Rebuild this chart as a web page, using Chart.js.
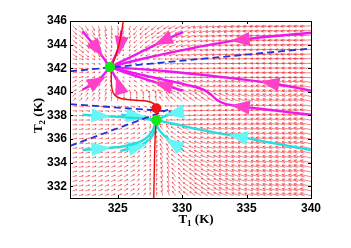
<!DOCTYPE html>
<html><head><meta charset="utf-8">
<script src="https://cdn.jsdelivr.net/npm/chart.js@4"></script>
<style>html,body{margin:0;padding:0;background:#fff}</style>
</head><body>
<canvas id="c" width="351" height="248"></canvas>
<script>
// ---- axes ----
const xTicks = [325, 330, 335, 340];
const yTicks = [332, 334, 336, 338, 340, 342, 344, 346];
const xRange = [321.3, 340];
const yRange = [331, 346];

// ---- quiver sample grid ----
const quiverT1 = [321.5,322,322.5,323,323.5,324,324.5,325,325.5,326,326.5,327,327.5,328,328.5,329,329.5,330,330.5,331,331.5,332,332.5,333,333.5,334,334.5,335,335.5,336,336.5,337,337.5,338,338.5,339,339.5,340];
const quiverT2 = [331.2,331.6,332.0,332.4,332.8,333.2,333.6,334.0,334.4,334.8,335.2,335.6,336.0,336.4,336.8,337.2,337.6,338.0,338.4,338.8,339.2,339.6,340.0,340.4,340.8,341.2,341.6,342.0,342.4,342.8,343.2,343.6,344.0,344.4,344.8,345.2,345.6];

// field in 1K x 1K cells (direction in degrees, 0 = toward +T1, 90 = toward +T2)
const fieldT1 = [321.75,322.75,323.75,324.75,325.75,326.75,327.75,328.75,329.75,330.75,331.75,332.75,333.75,334.75,335.75,336.75,337.75,338.75,339.75];
const fieldT2 = [345.5,344.5,343.5,342.5,341.5,340.5,339.5,338.5,337.5,336.5,335.5,334.5,333.5,332.5,331.5];
const fieldAngle = [
 [315,300,285,280,250,232,220,210,203,198,194,191,189,187,186,185,185,184,184],
 [320,315,300,280,250,225,212,205,200,195,192,189,187,186,185,184,183,183,183],
 [325,315,300,260,230,215,205,198,194,191,189,187,186,185,184,183,182,182,182],
 [352,350,340,226,195,190,187,185,184,183,182,181,180,180,179,179,179,179,179],
 [12,15,25,120,160,168,172,175,176,177,177,177,177,177,178,178,178,178,178],
 [29,40,60,103,132,148,155,160,163,165,167,168,169,169,170,170,171,171,171],
 [45,55,70,85,90,95,100,125,140,148,150,155,160,163,165,166,167,168,168],
 [355,355,352,350,345,340,300,180,180,180,178,176,175,174,174,173,173,173,173],
 [2,2,3,5,5,8,10,175,176,175,172,171,170,170,170,170,170,170,170],
 [9,10,12,14,18,30,85,126,150,160,165,167,168,169,169,170,170,170,170],
 [8,10,12,15,20,35,80,120,145,158,163,166,167,168,168,169,169,169,169],
 [10,12,14,17,25,40,80,115,140,155,160,163,165,166,167,168,168,168,168],
 [12,14,16,20,28,45,82,110,135,150,157,161,163,165,166,167,167,168,168],
 [14,16,18,22,30,48,83,108,130,146,154,158,161,163,165,166,167,167,168],
 [15,17,20,24,32,50,84,105,126,142,151,156,159,162,164,165,166,166,167]
];
// relative magnitude 0..9 per cell
const fieldMag = [
 "4443345566778889999",
 "4432234556677888999",
 "4321123456677788899",
 "3210012345667778889",
 "3210012345667778889",
 "3321123445667778889",
 "3333334455667778889",
 "3333321345667778889",
 "3332210245667778889",
 "3333322345667778889",
 "3333322445667778889",
 "3333322445667778889",
 "3333322445667778889",
 "3333322445667778889",
 "3333322445667778889"
];

// ---- nullcline (red) ----
const nullT1 = [325.44,325.2,324.9,324.6,324.5,324.55,324.75,325.2,326.2,327.3,327.8,328.0,328.05,328.0,327.95,327.9,327.85,327.8];
const nullT2 = [346,344.5,343.2,342.3,341.5,340.3,339.75,339.45,339.3,339.2,339.0,338.6,338.1,337.6,337.0,336.0,334.0,331.0];

// ---- eigen-direction dashed lines ----
const dashA_T1 = [321.3, 340],   dashA_T2 = [341.74, 343.67];
const dashB_T1 = [321.3, 329.1], dashB_T2 = [338.96, 338.33];
const dashC_T1 = [321.3, 328.9], dashC_T2 = [335.41, 338.48];

// ---- fixed points ----
const stableT1 = [324.4, 328.0], stableT2 = [342.1, 337.6];
const saddleT1 = [328.0],        saddleT2 = [338.6];

// ---- trajectories into upper node (magenta) ----
const magentaTraj = [
 {t1:[322.27,323.4,324.4], t2:[345.15,343.6,342.1], head:[323.44,343.6]},
 {t1:[325.3,325.1,324.4], t2:[345.2,343.8,342.1], head:[325.2,343.9]},
 {t1:[330.07,328.5,326.3,324.4], t2:[345.06,344.3,343.1,342.1], head:[328.5,344.3]},
 {t1:[340,334.5,330.33,326.7,324.4], t2:[345.0,344.4,343.6,342.74,342.1], head:[334.5,344.4]},
 {t1:[340,336.8,332.67,328.77,324.4], t2:[340.1,340.75,341.3,341.74,342.1], head:[336.8,340.75]},
 {t1:[340,336.5,334.5,333.3,332.67,332.2,331.6,330.5,327,324.4], t2:[338.05,338.5,338.76,339.0,339.33,339.8,340.2,340.55,341.4,342.1], head:[334.5,338.76]},
 {t1:[330.07,328.5,326.5,324.4], t2:[340.1,340.6,341.3,342.1], head:[328.5,340.6]},
 {t1:[322.27,323.44,324.4], t2:[340.18,340.9,342.1], head:[323.44,340.9]},
 {t1:[325.3,325.1,324.4], t2:[339.9,340.6,342.1], head:[325.1,340.6]}
];
// ---- trajectories into lower node (cyan) ----
const cyanTraj = [
 {t1:[322.27,323.7,326,328.0], t2:[338.05,337.95,337.8,337.6], head:[323.7,337.95]},
 {t1:[325.26,326.4,328.0], t2:[338.05,337.95,337.6], head:[326.4,337.95]},
 {t1:[330.07,329.4,328.6,328.0], t2:[338.3,338.2,337.9,337.6], head:[329.4,338.2]},
 {t1:[340,334.35,331.37,329.5,328.0], t2:[335.07,336.2,336.8,337.25,337.6], head:[334.35,336.2]},
 {t1:[322.27,323.7,325.5,326.8,327.6,328.0], t2:[335.07,335.2,335.4,335.8,336.5,337.6], head:[323.7,335.2]},
 {t1:[325.2,326.56,327.5,327.9,328.0], t2:[335.0,335.35,336.0,336.8,337.6], head:[326.56,335.35]},
 {t1:[330.07,329.3,328.5,328.1,328.0], t2:[335.07,335.64,336.4,337.0,337.6], head:[329.3,335.64]}
];

const pts = (a, b) => a.map((v, i) => ({x: v, y: b[i]}));

const datasets = [];
datasets.push({label:'stable', data: pts(stableT1, stableT2), showLine:false, pointRadius:5.2, pointBackgroundColor:'#16e816', pointBorderWidth:0, order:0});
datasets.push({label:'saddle', data: pts(saddleT1, saddleT2), showLine:false, pointRadius:5, pointBackgroundColor:'#ee1515', pointBorderWidth:0, order:0});
datasets.push({label:'nullcline', data: pts(nullT1, nullT2), showLine:true, borderColor:'#e80808', borderWidth:1.4, pointRadius:0, tension:0.3, order:1});
[[dashA_T1,dashA_T2],[dashB_T1,dashB_T2],[dashC_T1,dashC_T2]].forEach(d => {
  datasets.push({label:'dash', data: pts(d[0], d[1]), showLine:true, borderColor:'#1b35e0', borderWidth:1.8, borderDash:[7,4], pointRadius:0, order:2});
});
magentaTraj.forEach(t => {
  datasets.push({label:'mag', data: pts(t.t1, t.t2), showLine:true, borderColor:'#ee18ee', borderWidth:2.4, pointRadius:0, tension:0.35, order:3, head:t.head, headColor:'#ff40c8'});
});
cyanTraj.forEach(t => {
  datasets.push({label:'cyan', data: pts(t.t1, t.t2), showLine:true, borderColor:'#22e0e0', borderWidth:2.4, pointRadius:0, tension:0.35, order:3, head:t.head, headColor:'#66f6f6'});
});

function nearestIdx(arr, v) {
  let best = 0, bd = Infinity;
  arr.forEach((a, i) => { const d = Math.abs(a - v); if (d < bd - 1e-9) { bd = d; best = i; } });
  return best;
}

const quiverPlugin = {
  id: 'quiver',
  beforeDatasetsDraw(chart) {
    const {ctx, chartArea: ca, scales: {x, y}} = chart;
    ctx.save();
    ctx.beginPath(); ctx.rect(ca.left, ca.top, ca.right - ca.left, ca.bottom - ca.top); ctx.clip();
    ctx.strokeStyle = 'rgba(232,32,38,0.72)';
    ctx.lineWidth = 0.75;
    ctx.beginPath();
    quiverT2.forEach(v2 => {
      const r = nearestIdx(fieldT2, v2);
      quiverT1.forEach(v1 => {
        const c = nearestIdx(fieldT1, v1);
        const ang = fieldAngle[r][c] * Math.PI / 180;
        const mag = +fieldMag[r][c];
        const len = 1.0 + mag * 1.1;
        const px = x.getPixelForValue(v1), py = y.getPixelForValue(v2);
        const ex = px + Math.cos(ang) * len, ey = py - Math.sin(ang) * len;
        ctx.moveTo(px, py); ctx.lineTo(ex, ey);
        const h = Math.max(1.2, len * 0.28);
        [-0.45, 0.45].forEach(s => {
          const b = ang + Math.PI + s;
          ctx.moveTo(ex, ey); ctx.lineTo(ex + Math.cos(b) * h, ey - Math.sin(b) * h);
        });
      });
    });
    ctx.stroke();
    ctx.restore();
  },
  afterDatasetDraw(chart, args) {
    const ds = chart.data.datasets[args.index];
    if (!ds.head) return;
    const {ctx, scales: {x, y}} = chart;
    const cx = x.getPixelForValue(ds.head[0]), cy = y.getPixelForValue(ds.head[1]);
    const P = ds.data.map(p => [x.getPixelForValue(p.x), y.getPixelForValue(p.y)]);
    let best = 0, bd = Infinity;
    for (let i = 0; i < P.length - 1; i++) {
      const ax = P[i][0], ay = P[i][1], bx = P[i+1][0], by = P[i+1][1];
      const vx = bx - ax, vy = by - ay, L2 = vx*vx + vy*vy;
      let t = ((cx - ax) * vx + (cy - ay) * vy) / L2; t = Math.max(0, Math.min(1, t));
      const qx = ax + t*vx - cx, qy = ay + t*vy - cy, d = qx*qx + qy*qy;
      if (d < bd) { bd = d; best = i; }
    }
    let ux = P[best+1][0] - P[best][0], uy = P[best+1][1] - P[best][1];
    const n = Math.hypot(ux, uy); ux /= n; uy /= n;
    const L = 19, W = 14;
    ctx.save();
    ctx.fillStyle = ds.headColor;
    ctx.beginPath();
    ctx.moveTo(cx + ux*L/2, cy + uy*L/2);
    ctx.lineTo(cx - ux*L/2 - uy*W/2, cy - uy*L/2 + ux*W/2);
    ctx.lineTo(cx - ux*L/2 + uy*W/2, cy - uy*L/2 - ux*W/2);
    ctx.closePath();
    ctx.fill();
    ctx.restore();
  },
  afterDraw(chart) {
    const {ctx, chartArea: ca, scales: {x, y}} = chart;
    ctx.save();
    ctx.strokeStyle = '#000'; ctx.lineWidth = 1;
    ctx.strokeRect(Math.round(ca.left) + 0.5, Math.round(ca.top) + 0.5, Math.round(ca.right - ca.left), Math.round(ca.bottom - ca.top));
    ctx.beginPath();
    const tl = 3;
    xTicks.forEach(v => {
      const px = Math.round(x.getPixelForValue(v)) + 0.5;
      ctx.moveTo(px, ca.bottom); ctx.lineTo(px, ca.bottom - tl);
      ctx.moveTo(px, ca.top); ctx.lineTo(px, ca.top + tl);
    });
    yTicks.forEach(v => {
      const py = Math.round(y.getPixelForValue(v)) + 0.5;
      ctx.moveTo(ca.left, py); ctx.lineTo(ca.left + tl, py);
      ctx.moveTo(ca.right, py); ctx.lineTo(ca.right - tl, py);
    });
    ctx.stroke();
    // axis titles with subscripts
    const drawTitle = (cx, cy, rot, sub) => {
      ctx.save();
      ctx.translate(cx, cy); ctx.rotate(rot);
      ctx.fillStyle = '#000';
      ctx.textBaseline = 'middle';
      const big = 'bold 13px "Liberation Serif", "Times New Roman", serif';
      const small = 'bold 9px "Liberation Serif", "Times New Roman", serif';
      ctx.font = big; const w1 = ctx.measureText('T').width, w3 = ctx.measureText(' (K)').width;
      ctx.font = small; const w2 = ctx.measureText(sub).width;
      let sx = -(w1 + w2 + w3) / 2;
      ctx.textAlign = 'left';
      ctx.font = big; ctx.fillText('T', sx, 0); sx += w1;
      ctx.font = small; ctx.fillText(sub, sx, 3.5); sx += w2;
      ctx.font = big; ctx.fillText(' (K)', sx, 0);
      ctx.restore();
    };
    drawTitle(196, 220, 0, '1');
    drawTitle(39, (ca.top + ca.bottom) / 2 + 6, -Math.PI / 2, '2');
    ctx.restore();
  }
};

const tickFont = {family: '"Liberation Sans", Arial, sans-serif', weight: 'bold', size: 12};
new Chart(document.getElementById('c'), {
  type: 'scatter',
  data: {datasets},
  options: {
    animation: false, responsive: false, devicePixelRatio: 1,
    layout: {padding: {left: 0, right: 40, top: 21, bottom: 0}},
    plugins: {legend: {display: false}, tooltip: {enabled: false}},
    scales: {
      x: {type: 'linear', min: xRange[0], max: xRange[1],
          afterBuildTicks: s => { s.ticks = xTicks.map(v => ({value: v})); },
          afterFit: s => { s.height = 50; },
          grid: {display: false, drawTicks: false}, border: {display: false},
          ticks: {font: tickFont, color: '#000', padding: 3, maxRotation: 0, autoSkip: false}},
      y: {type: 'linear', min: yRange[0], max: yRange[1],
          afterBuildTicks: s => { s.ticks = yTicks.map(v => ({value: v})); },
          afterFit: s => { s.width = 70; },
          grid: {display: false, drawTicks: false}, border: {display: false},
          ticks: {font: tickFont, color: '#000', padding: 3, autoSkip: false}}
    }
  },
  plugins: [quiverPlugin]
});
</script>
</body></html>
